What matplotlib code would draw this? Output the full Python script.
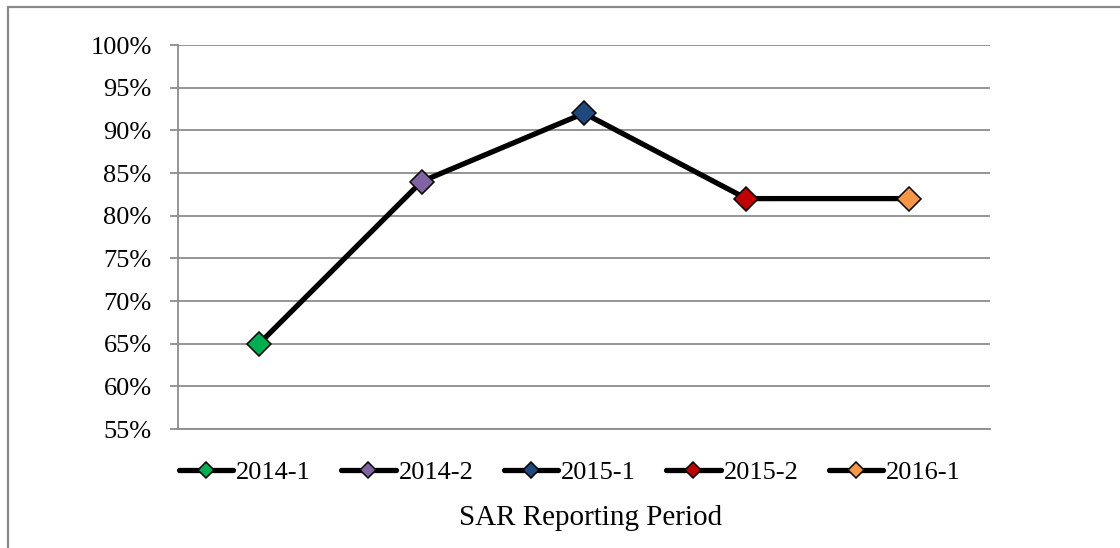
import matplotlib.pyplot as plt
from matplotlib.patches import Rectangle

periods = ['2014-1', '2014-2', '2015-1', '2015-2', '2016-1']
values = [65, 84, 92, 82, 82]
marker_colors = ['#00B050', '#8064A2', '#1F497D', '#C00000', '#F79646']
yticks = [55, 60, 65, 70, 75, 80, 85, 90, 95, 100]

plt.rcParams['font.family'] = ['Liberation Serif', 'DejaVu Serif']
fs = 19

fig = plt.figure(figsize=(11.2, 5.48), dpi=100)
ax = fig.add_axes([178/1120, 1-429/548, (990-178)/1120, (429-45)/548])

# outer chart border (only left and top visible in the crop)
fig.patches.append(Rectangle((8/1120, -0.1), 1.2, 1-7/548+0.1, transform=fig.transFigure,
                             fill=False, edgecolor='#8a8a8a', linewidth=1.6))

x = list(range(len(periods)))
ax.plot(x, values, color='black', linewidth=3.8, zorder=3, solid_capstyle='round')
for i, p in enumerate(periods):
    ax.plot([x[i]], [values[i]], color='black', linewidth=3.8, marker='D', markersize=12.5,
            markerfacecolor=marker_colors[i], markeredgecolor='black', markeredgewidth=1.1,
            label=p, zorder=4, solid_capstyle='round')

ax.set_xlim(-0.5, len(periods) - 0.5)
ax.set_ylim(55, 100)
ax.set_yticks(yticks)
ax.set_yticklabels([f'{v}%' for v in yticks], fontsize=fs)
ax.set_xticks([])
ax.yaxis.grid(True, color='#8c8c8c', linewidth=1.3)
ax.set_axisbelow(True)
ax.tick_params(axis='y', length=6, width=1.3, color='#8c8c8c', pad=13)
for s in ['top', 'right']:
    ax.spines[s].set_visible(False)
for s in ['left', 'bottom']:
    ax.spines[s].set_color('#8c8c8c')
    ax.spines[s].set_linewidth(1.3)

fig.legend(loc='center', bbox_to_anchor=(570/1120, 1-472/548), ncol=5, frameon=False,
           fontsize=fs, handlelength=2.05, handletextpad=0.12, columnspacing=1.15,
           markerscale=0.65)
fig.text(591/1120, 1-525/548, 'SAR Reporting Period', ha='center', va='baseline', fontsize=21)

fig.savefig('out.png', dpi=100)
